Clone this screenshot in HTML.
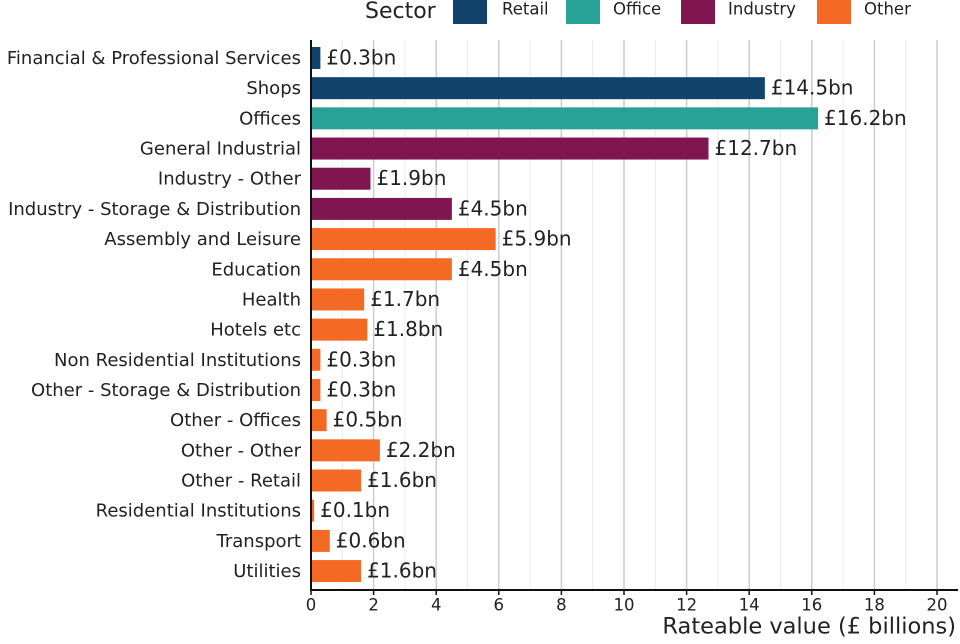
<!DOCTYPE html>
<html><head><meta charset="utf-8"><style>
body{margin:0;background:#fff;font-family:"DejaVu Sans","Liberation Sans",sans-serif}
</style></head><body>
<svg id="chart" width="960" height="640" xmlns="http://www.w3.org/2000/svg" font-family="DejaVu Sans, Liberation Sans, sans-serif">
<g>
<text x="365" y="12" font-size="22" fill="#222" dominant-baseline="middle">Sector</text>
<rect x="453" y="-2" width="34" height="26" fill="#12436D"/>
<text x="502" y="10" font-size="16.5" fill="#222" dominant-baseline="middle">Retail</text>
<rect x="566" y="-2" width="34" height="26" fill="#28A197"/>
<text x="613" y="10" font-size="16.5" fill="#222" dominant-baseline="middle">Office</text>
<rect x="681" y="-2" width="34" height="26" fill="#801650"/>
<text x="728" y="10" font-size="16.5" fill="#222" dominant-baseline="middle">Industry</text>
<rect x="817" y="-2" width="34" height="26" fill="#F46A25"/>
<text x="864" y="10" font-size="16.5" fill="#222" dominant-baseline="middle">Other</text>
</g>
<g id="grid"></g><g id="bars"></g><g id="axes"></g>
</svg>
<script>
const categories=["Financial & Professional Services","Shops","Offices","General Industrial","Industry - Other","Industry - Storage & Distribution","Assembly and Leisure","Education","Health","Hotels etc","Non Residential Institutions","Other - Storage & Distribution","Other - Offices","Other - Other","Other - Retail","Residential Institutions","Transport","Utilities"];
const values=[0.3,14.5,16.2,12.7,1.9,4.5,5.9,4.5,1.7,1.8,0.3,0.3,0.5,2.2,1.6,0.1,0.6,1.6];
const sectors=["Retail","Retail","Office","Industry","Industry","Industry","Other","Other","Other","Other","Other","Other","Other","Other","Other","Other","Other","Other"];
const xTicks=[0,2,4,6,8,10,12,14,16,18,20];
const colors={Retail:"#12436D",Office:"#28A197",Industry:"#801650",Other:"#F46A25"};
const NS="http://www.w3.org/2000/svg";
const x=v=>311+v*31.3;
const y=i=>58+i*30.18;
function mk(p,t,a){const e=document.createElementNS(NS,t);for(const k in a)e.setAttribute(k,a[k]);p.appendChild(e);return e;}
const grid=document.getElementById('grid'),bars=document.getElementById('bars'),axes=document.getElementById('axes');
for(let v=1;v<=20;v++){const l=mk(grid,'line',{x1:x(v),x2:x(v),y1:40,y2:590,stroke:v%2?'#ebebeb':'#cccccc','stroke-width':v%2?1:1.5});

}
categories.forEach((c,i)=>{
const r=mk(bars,'rect',{x:x(0),y:y(i)-11,width:x(values[i])-x(0),height:22,fill:colors[sectors[i]]});


const t=mk(bars,'text',{x:x(values[i])+6,y:y(i)+1,'font-size':20,fill:'#222','dominant-baseline':'middle'});
t.textContent='£'+values[i].toFixed(1)+'bn';


const ct=mk(axes,'text',{x:301,y:y(i)+1,'font-size':18,fill:'#222','text-anchor':'end','dominant-baseline':'middle'});
ct.textContent=c;


});
const ya=mk(axes,'line',{x1:x(0),x2:x(0),y1:40,y2:591,stroke:'#111','stroke-width':2});


const xa=mk(axes,'line',{x1:310,x2:958,y1:590,y2:590,stroke:'#111','stroke-width':2});


xTicks.forEach(v=>{
const tk=mk(axes,'line',{x1:x(v),x2:x(v),y1:590,y2:595,stroke:'#111','stroke-width':1.5});


const t=mk(axes,'text',{x:x(v),y:606,'font-size':16.5,fill:'#222','text-anchor':'middle','dominant-baseline':'middle'});
t.textContent=v;


});
const xt=mk(axes,'text',{x:956,y:627,'font-size':22.5,fill:'#222','text-anchor':'end','dominant-baseline':'middle'});
xt.textContent='Rateable value (£ billions)';


</script>
</body></html>
